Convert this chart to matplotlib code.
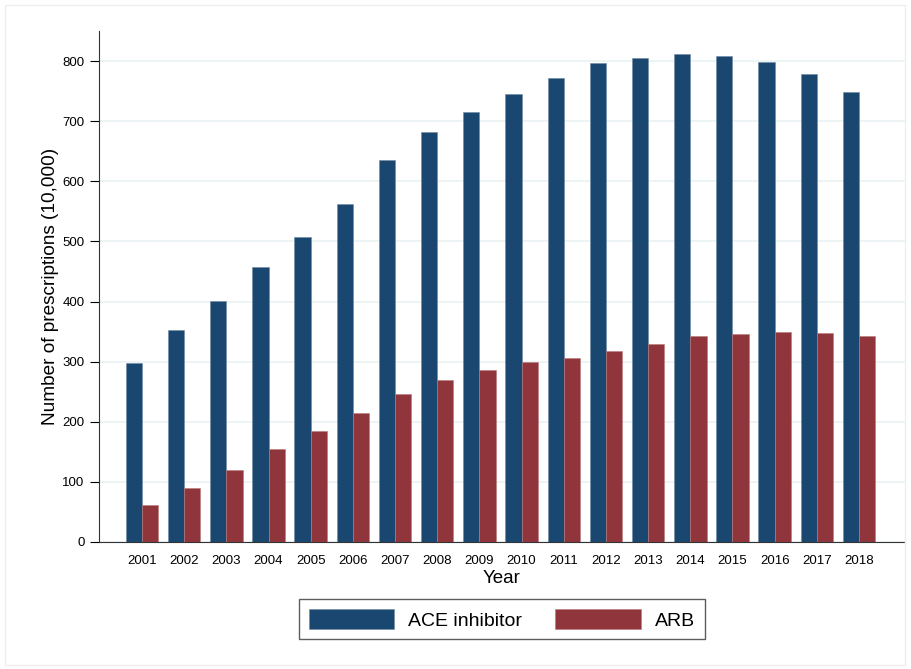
import matplotlib
matplotlib.use("Agg")
import matplotlib.pyplot as plt
import numpy as np
from matplotlib.patches import Rectangle

years = ["2001", "2002", "2003", "2004", "2005", "2006", "2007", "2008", "2009",
         "2010", "2011", "2012", "2013", "2014", "2015", "2016", "2017", "2018"]
ace = [297, 353, 401, 458, 508, 563, 636, 682, 715, 746, 771, 796, 805, 811, 808, 798, 779, 749]
arb = [62, 90, 120, 155, 184, 214, 247, 270, 286, 299, 306, 317, 330, 342, 346, 350, 347, 342]
yticks = [0, 100, 200, 300, 400, 500, 600, 700, 800]

plt.rcParams['font.family'] = ['Liberation Sans', 'DejaVu Sans']

fig = plt.figure(figsize=(9.11, 6.69), dpi=100)
fig.patch.set_facecolor('white')
fig.patches.append(Rectangle((5/911, 4/669), 900/911, 660/669, transform=fig.transFigure,
                             fill=False, edgecolor='#eeeeee', linewidth=1))

ax = fig.add_axes([99/911, 1-542/669, 806/911, (542-31)/669])
x = np.arange(len(years))
w = 0.385
b1 = ax.bar(x - w/2, ace, width=w, color='#1a476f', edgecolor='#6f8aa3', linewidth=0.4, label='ACE inhibitor', zorder=3)
b2 = ax.bar(x + w/2, arb, width=w, color='#90353b', edgecolor='#b8797d', linewidth=0.4, label='ARB', zorder=3)

ax.set_xlim(-1.02, len(years) - 1 + 1.09)
ax.set_ylim(0, 850)
ax.set_yticks(yticks)
ax.set_yticklabels([str(v) for v in yticks], fontsize=9.5)
ax.set_xticks(x)
ax.set_xticklabels(years, fontsize=9.5)
ax.tick_params(axis='x', length=0, pad=9)
ax.tick_params(axis='y', length=6.5, width=0.8, direction='out', pad=4)
ax.grid(axis='y', color='#eaf2f3', linewidth=1.2, zorder=0)
for s in ['top', 'right']:
    ax.spines[s].set_visible(False)
ax.spines['left'].set_color('#333333')
ax.spines['bottom'].set_color('#333333')
ax.set_ylabel('Number of prescriptions (10,000)', fontsize=13.7, labelpad=2)
ax.set_xlabel('Year', fontsize=13.5, labelpad=2.5)

leg = ax.legend(handles=[b1, b2], loc='upper center', bbox_to_anchor=(0.5, -0.1115), ncol=2,
                fontsize=14, frameon=True, fancybox=False, edgecolor='#333333',
                handlelength=4.4, handleheight=1.25, columnspacing=1.7, handletextpad=0.72,
                borderpad=0.5, borderaxespad=0)
leg.get_frame().set_linewidth(1.0)

fig.savefig('out.png', dpi=100)
